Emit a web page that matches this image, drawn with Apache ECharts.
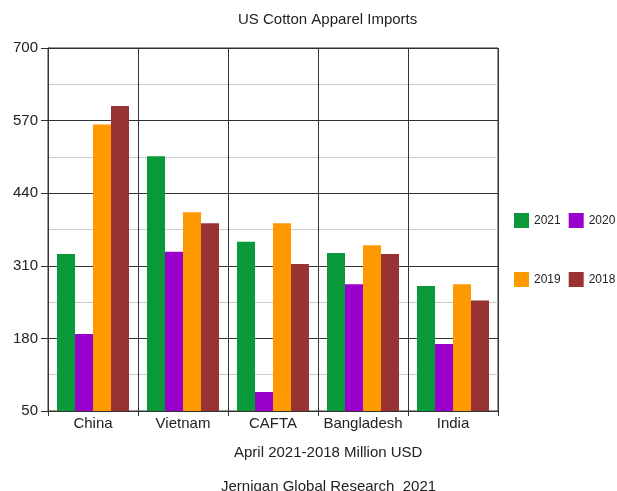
<!DOCTYPE html>
<html>
<head>
<meta charset="utf-8">
<script src="https://cdn.jsdelivr.net/npm/echarts@6/dist/echarts.min.js"></script>
<style>
  html, body { margin: 0; padding: 0; background: #fff; }
  #chart { width: 617px; height: 491px; }
</style>
</head>
<body>
<div id="chart"></div>
<script>
// Import values by source country, million USD (April figures)
const categories = ['China', 'Vietnam', 'CAFTA', 'Bangladesh', 'India'];
const imports2021 = [331, 506, 353, 333, 274];
const imports2020 = [188, 335, 84, 277, 170];
const imports2019 = [563, 406, 386, 347, 277];
const imports2018 = [596, 386, 313, 331, 248];
const yTicks = [50, 180, 310, 440, 570, 700];

const FONT = '"Liberation Sans", Arial, sans-serif';
const ink = '#222';
const lineDark = '#333';

const seriesDefs = [
  { name: '2021', data: imports2021, color: '#0a9938' },
  { name: '2020', data: imports2020, color: '#9900cc' },
  { name: '2019', data: imports2019, color: '#ff9900' },
  { name: '2018', data: imports2018, color: '#993333' }
];

const legendText = { fontSize: 12, color: ink, fontFamily: FONT };
const chart = echarts.init(document.getElementById('chart'));
chart.setOption({
  animation: false,
  textStyle: { fontFamily: FONT },
  title: [
    { text: 'US Cotton Apparel Imports', left: 233, top: 7,
      textStyle: { fontSize: 15, fontWeight: 'normal', color: ink, fontFamily: FONT } },
    { text: 'April 2021-2018 Million USD', left: 229, top: 440,
      textStyle: { fontSize: 15, fontWeight: 'normal', color: ink, fontFamily: FONT } },
    { text: 'Jernigan Global Research  2021', left: 216, top: 474,
      textStyle: { fontSize: 15, fontWeight: 'normal', color: ink, fontFamily: FONT } }
  ],
  legend: [
    { data: ['2021', '2020'], orient: 'horizontal', left: 514, top: 213, width: 200,
      padding: 0, itemWidth: 15, itemHeight: 15, itemGap: 8,
      icon: 'rect', textStyle: legendText },
    { data: ['2019', '2018'], orient: 'horizontal', left: 514, top: 272, width: 200,
      padding: 0, itemWidth: 15, itemHeight: 15, itemGap: 8,
      icon: 'rect', textStyle: legendText }
  ],
  grid: {
    left: 48, right: 119, top: 48, bottom: 80,
    show: true, borderColor: lineDark, borderWidth: 1, backgroundColor: 'transparent'
  },
  xAxis: {
    type: 'category',
    data: categories,
    boundaryGap: true,
    axisLine: { show: true, lineStyle: { color: lineDark, width: 1 } },
    axisTick: { show: true, interval: 0, length: 5, lineStyle: { color: lineDark } },
    axisLabel: { interval: 0, fontSize: 15, color: ink, margin: 5, fontFamily: FONT },
    splitLine: { show: true, interval: 0, lineStyle: { color: lineDark, width: 1 } }
  },
  yAxis: {
    type: 'value',
    min: yTicks[0],
    max: yTicks[yTicks.length - 1],
    interval: yTicks[1] - yTicks[0],
    axisLine: { show: true, lineStyle: { color: lineDark, width: 1 } },
    axisTick: { show: true, length: 7, lineStyle: { color: lineDark } },
    axisLabel: { fontSize: 15, color: ink, margin: 10, fontFamily: FONT },
    splitLine: { show: true, lineStyle: { color: lineDark, width: 1 } },
    minorTick: { show: false, splitNumber: 2 },
    minorSplitLine: { show: true, lineStyle: { color: '#cccccc', width: 1 } }
  },
  series: seriesDefs.map(s => ({
    name: s.name,
    type: 'bar',
    data: s.data,
    barGap: '0%',
    barCategoryGap: '20%',
    itemStyle: { color: s.color },
    z: 1
  }))
});
</script>
</body>
</html>
